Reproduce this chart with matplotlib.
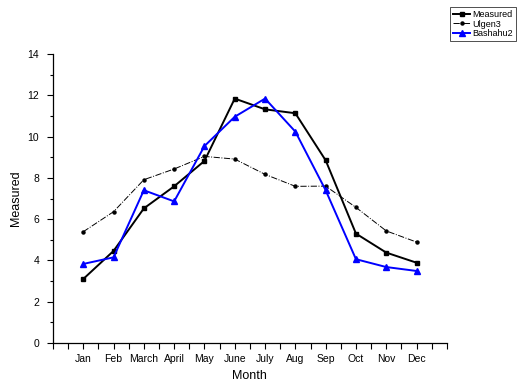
import matplotlib.pyplot as plt
from matplotlib.ticker import MultipleLocator

plt.rcParams['font.family'] = ['Liberation Sans', 'DejaVu Sans']

months = ["Jan", "Feb", "March", "April", "May", "June", "July", "Aug", "Sep", "Oct", "Nov", "Dec"]
measured = [3.1, 4.46, 6.52, 7.59, 8.82, 11.84, 11.32, 11.13, 8.85, 5.3, 4.38, 3.89]
ulgen3 = [5.39, 6.36, 7.91, 8.43, 9.04, 8.91, 8.17, 7.59, 7.6, 6.57, 5.43, 4.89]
bashahu2 = [3.83, 4.15, 7.4, 6.86, 9.54, 10.96, 11.84, 10.24, 7.4, 4.06, 3.68, 3.49]

x = list(range(1, len(months) + 1))

fig = plt.figure(figsize=(5.19, 3.83), dpi=100)
ax = fig.add_axes([0.102, 0.1044, 0.759, 0.7546])

l1, = ax.plot(x, measured, color='black', lw=1.4, marker='s', ms=3.5, label='Measured')
l2, = ax.plot(x, ulgen3, color='black', lw=0.7, ls='-.', marker='o', ms=2.2, label='Ulgen3')
l3, = ax.plot(x, bashahu2, color='blue', lw=1.4, marker='^', ms=4, label='Bashahu2')

ax.set_xlim(0, 13)
ax.set_ylim(0, 14)
ax.set_xticks(x)
ax.set_xticklabels(months)
ax.xaxis.set_minor_locator(MultipleLocator(0.5))
ax.yaxis.set_major_locator(MultipleLocator(2))
ax.yaxis.set_minor_locator(MultipleLocator(1))

for s in ['top', 'right']:
    ax.spines[s].set_visible(False)
for s in ['left', 'bottom']:
    ax.spines[s].set_linewidth(0.9)

ax.tick_params(which='major', direction='out', length=4, width=0.8, labelsize=7.5)
ax.tick_params(axis='x', which='minor', direction='out', length=4, width=0.8)
ax.tick_params(axis='y', which='minor', direction='out', length=2, width=0.8)
ax.tick_params(axis='y', pad=6)
ax.tick_params(axis='x', pad=4)

ax.set_xlabel('Month', fontsize=9, labelpad=4)
ax.set_ylabel('Measured', fontsize=9, labelpad=4)

leg = fig.legend(handles=[l1, l2, l3], loc='upper right', bbox_to_anchor=(0.994, 0.982),
                 fontsize=6.5, frameon=True, fancybox=False, edgecolor='black',
                 handlelength=1.9, handletextpad=0.2, borderpad=0.35, labelspacing=0.05,
                 borderaxespad=0)
leg.get_frame().set_linewidth(0.6)

fig.savefig('out.png', dpi=100)
